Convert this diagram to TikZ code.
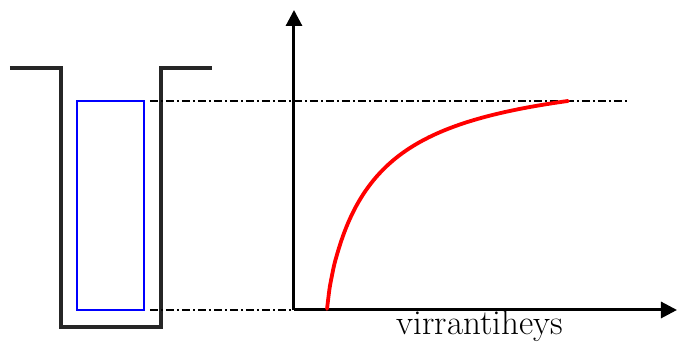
\documentclass[tikz,border=0pt]{standalone}
\usetikzlibrary{arrows.meta}
\tikzset{
  wall/.style={line width=1.6pt,color=black!85},
  probe/.style={line width=1pt,blue},
  axis/.style={line width=1.5pt,-{Triangle[length=8pt,width=8pt]}},
  guide/.style={line width=1pt,dash pattern=on 4pt off 1.5pt on 1pt off 1.5pt},
  curve/.style={line width=1.9pt,red,line cap=round}
}
\begin{document}
\begin{tikzpicture}[x=0.5pt,y=0.5pt]
\useasboundingbox (0,0) rectangle (677,351);
\coordinate (O) at (294,41);
\coordinate (ytop) at (294,341);
\coordinate (xend) at (677,41);
\coordinate (gtop) at (150,250);
\coordinate (gend) at (628,250);
\coordinate (gbot) at (150,41);

\draw[wall] (10,283) -- (61,283) -- (61,24) -- (161,24) -- (161,283) -- (212,283);
\draw[probe] (77,41) rectangle (144,250);

\draw[guide] (gtop) -- (gend);
\draw[guide] (gbot) -- (O);

\draw[axis] (O) -- (ytop);
\draw[axis] (O) -- (xend);

% saturating curve
\draw[curve] plot[domain=0.05:241,samples=100,smooth] ({327+\x},{41+209*pow((\x/(\x+65))/0.7876,0.75)});

\node[anchor=base,font=\fontsize{17.5}{21}\selectfont] (lbl) at (480,16) {virrantiheys};
\end{tikzpicture}
\end{document}
